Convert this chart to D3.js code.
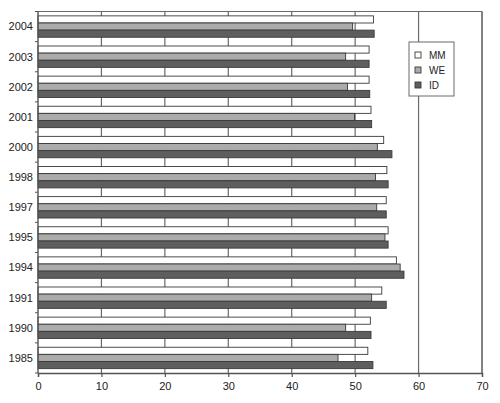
<!DOCTYPE html>
<html>
<head>
<meta charset="utf-8">
<script src="https://cdn.jsdelivr.net/npm/d3@7/dist/d3.min.js"></script>
<style>
  html, body { margin: 0; padding: 0; background: #fff; }
  svg { display: block; font-family: "Liberation Sans", Arial, sans-serif; }
</style>
</head>
<body>
<svg id="chart" width="500" height="403"></svg>
<script>
const categories = ["2004", "2003", "2002", "2001", "2000", "1998", "1997", "1995", "1994", "1991", "1990", "1985"];
const seriesNames = ["MM", "WE", "ID"];
const mmValues = [52.9, 52.2, 52.2, 52.5, 54.5, 55.0, 54.9, 55.2, 56.5, 54.2, 52.4, 52.0];
const weValues = [49.6, 48.5, 48.8, 49.9, 53.5, 53.2, 53.4, 54.7, 57.1, 52.6, 48.5, 47.3];
const idValues = [53.0, 52.2, 52.3, 52.6, 55.8, 55.2, 54.9, 55.2, 57.7, 54.9, 52.5, 52.8];
const xTicks = [0, 10, 20, 30, 40, 50, 60, 70];

const seriesValues = [mmValues, weValues, idValues];
const fills = ["#ffffff", "#ababab", "#5e5e5e"];

const svg = d3.select("#chart");
const margin = { left: 38, right: 18, top: 11.5, bottom: 30 };
const W = 500, H = 403;

const x = d3.scaleLinear().domain([0, 70]).range([margin.left, W - margin.right]);
const y = d3.scaleBand().domain(categories).range([margin.top, H - margin.bottom]).paddingInner(0.29).paddingOuter(0.145);
const yOuter = d3.scaleBand().domain(categories).range([margin.top, H - margin.bottom]);
const ySub = d3.scaleBand().domain(seriesNames).range([0, y.bandwidth()]);

// gridlines
svg.append("g").selectAll("line").data(xTicks.slice(1)).join("line")
  .attr("x1", d => x(d)).attr("x2", d => x(d))
  .attr("y1", margin.top).attr("y2", H - margin.bottom)
  .attr("stroke", "#6a6a6a").attr("stroke-width", 1.2);

// top frame
svg.append("line").attr("x1", x(0)).attr("x2", x(70))
  .attr("y1", margin.top).attr("y2", margin.top)
  .attr("stroke", "#6a6a6a").attr("stroke-width", 1.2);

// bars
const groups = svg.append("g").selectAll("g").data(categories).join("g")
  .attr("transform", d => `translate(0,${y(d)})`);
groups.selectAll("rect").data((c, i) => seriesNames.map((s, j) => ({ s, j, v: seriesValues[j][i] })))
  .join("rect")
  .attr("x", x(0))
  .attr("y", d => ySub(d.s))
  .attr("width", d => x(d.v) - x(0))
  .attr("height", ySub.bandwidth())
  .attr("fill", d => fills[d.j])
  .attr("stroke", "#3a3a3a")
  .attr("stroke-width", 0.9);

// x axis
const xAxis = svg.append("g").attr("transform", `translate(0,${H - margin.bottom})`)
  .call(d3.axisBottom(x).tickValues(xTicks).tickSize(4).tickPadding(5));
xAxis.select(".domain").attr("stroke", "#555").attr("stroke-width", 1.4);
xAxis.selectAll(".tick line").attr("stroke", "#555").attr("stroke-width", 1.2);
xAxis.selectAll("text").attr("font-size", 11).attr("fill", "#222")
  .attr("font-family", "'Liberation Sans', Arial, sans-serif");

// y axis line + boundary ticks
svg.append("line").attr("x1", x(0)).attr("x2", x(0))
  .attr("y1", margin.top).attr("y2", H - margin.bottom)
  .attr("stroke", "#555").attr("stroke-width", 1.4);
const boundaries = categories.map(c => yOuter(c)).concat([H - margin.bottom]);
svg.append("g").selectAll("line").data(boundaries).join("line")
  .attr("x1", x(0) - 3).attr("x2", x(0))
  .attr("y1", d => d).attr("y2", d => d)
  .attr("stroke", "#555").attr("stroke-width", 1);

// y labels
svg.append("g").selectAll("text").data(categories).join("text")
  .attr("x", 33)
  .attr("y", d => yOuter(d) + yOuter.bandwidth() / 2)
  .attr("dy", "0.35em")
  .attr("text-anchor", "end")
  .attr("font-size", 11)
  .attr("fill", "#222")
  .text(d => d);

// right border
svg.append("line").attr("x1", x(70)).attr("x2", x(70))
  .attr("y1", margin.top).attr("y2", H - margin.bottom)
  .attr("stroke", "#6a6a6a").attr("stroke-width", 1.2);

// legend
const lg = svg.append("g").attr("transform", "translate(409,42)");
lg.append("rect").attr("width", 45).attr("height", 54)
  .attr("fill", "#fff").attr("stroke", "#6a6a6a").attr("stroke-width", 1);
const li = lg.selectAll("g.item").data(seriesNames).join("g").attr("class", "item")
  .attr("transform", (d, i) => `translate(6,${10 + i * 15})`);
li.append("rect").attr("width", 6).attr("height", 6)
  .attr("fill", (d, i) => fills[i]).attr("stroke", "#3a3a3a").attr("stroke-width", 0.9);
li.append("text").attr("x", 14).attr("y", 3).attr("dy", "0.35em")
  .attr("font-size", 10).attr("fill", "#222").text(d => d);
</script>
</body>
</html>
